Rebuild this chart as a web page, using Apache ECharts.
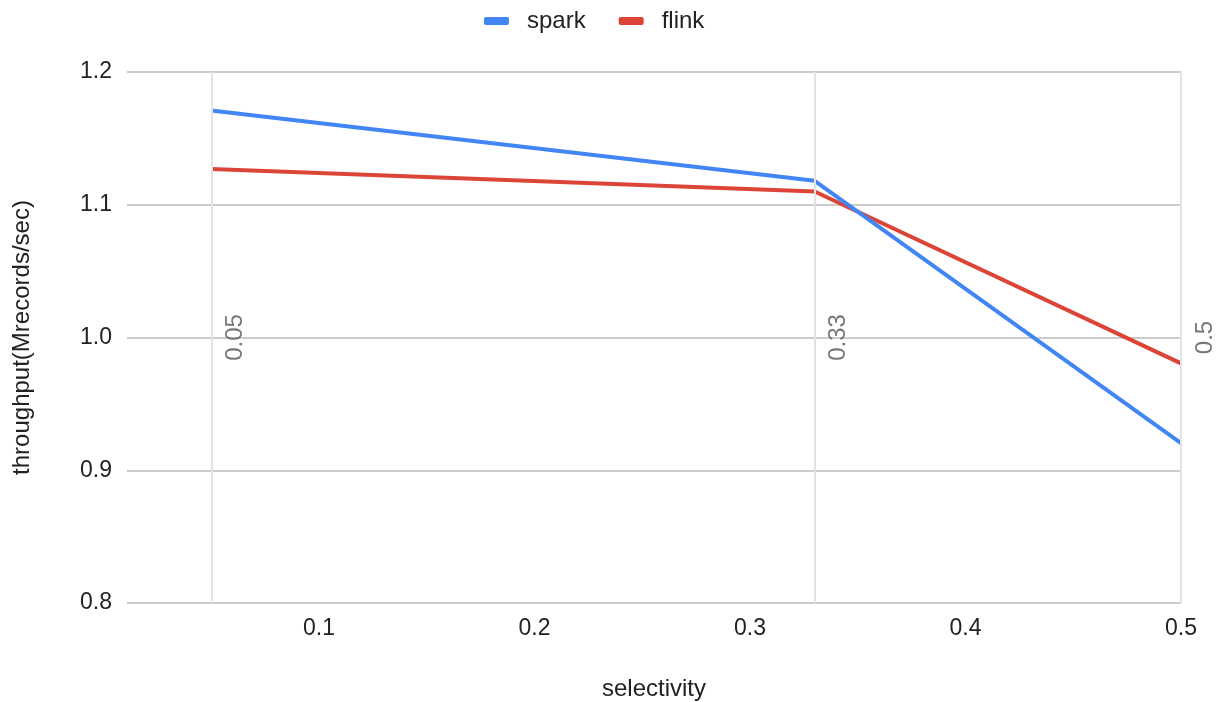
<!DOCTYPE html>
<html>
<head>
<meta charset="utf-8">
<script src="https://cdn.jsdelivr.net/npm/echarts@6/dist/echarts.min.js"></script>
<style>
html,body{margin:0;padding:0;background:#fff;}
#chart{width:1221px;height:702px;}
</style>
</head>
<body>
<div id="chart"></div>
<script>
const selectivity = [0.05, 0.33, 0.5];
const spark = [1.171, 1.118, 0.9205];
const flink = [1.127, 1.110, 0.9805];
const xTicks = [0.1, 0.2, 0.3, 0.4, 0.5];
const seriesNames = ['spark', 'flink'];

const chart = echarts.init(document.getElementById('chart'));
const font = 'Liberation Sans, Arial, sans-serif';
chart.setOption({
  animation: false,
  textStyle: {fontFamily: font},
  legend: {
    data: seriesNames,
    top: 4,
    left: 479,
    itemWidth: 25,
    itemHeight: 8,
    itemGap: 33,
    icon: 'roundRect',
    textStyle: {fontSize: 24, color: '#222', fontFamily: font, padding: [0, 0, 0, 13]}
  },
  grid: {left: 127, right: 40, top: 72, bottom: 99, outerBoundsMode: 'none', containLabel: false},
  xAxis: {
    type: 'value',
    min: 0.0109,
    max: 0.5,
    name: 'selectivity',
    nameLocation: 'middle',
    nameGap: 74,
    nameTextStyle: {fontSize: 24, color: '#222'},
    axisLine: {show: false},
    axisTick: {show: false},
    splitLine: {show: false},
    axisLabel: {
      customValues: xTicks,
      fontSize: 23, color: '#222', margin: 14,
      formatter: v => String(v)
    }
  },
  yAxis: {
    type: 'value',
    min: 0.8, max: 1.2, interval: 0.1,
    name: 'throughput(Mrecords/sec)',
    nameLocation: 'middle',
    nameGap: 93,
    nameTextStyle: {fontSize: 24, color: '#222'},
    axisLine: {show: false},
    axisTick: {show: false},
    splitLine: {lineStyle: {color: '#cccccc', width: 2}},
    axisLabel: {fontSize: 23, color: '#222', margin: 15, formatter: v => v.toFixed(1)}
  },
  series: [
    {
      name: 'domain', type: 'line', data: [], z: 1, silent: true,
      markLine: {
        silent: true, symbol: 'none', animation: false,
        lineStyle: {color: '#e3e3e3', width: 2, type: 'solid'},
        label: {
          show: true, position: 'insideMiddleBottom', formatter: p => String(p.value),
          color: '#777', fontSize: 24, distance: 12
        },
        data: selectivity.map(v => ({xAxis: v}))
      }
    },
    {
      name: 'spark', type: 'line', z: 3,
      data: selectivity.map((x, i) => [x, spark[i]]),
      showSymbol: false, symbol: 'none',
      lineStyle: {color: '#4285F4', width: 4},
      itemStyle: {color: '#4285F4'}
    },
    {
      name: 'flink', type: 'line', z: 2,
      data: selectivity.map((x, i) => [x, flink[i]]),
      showSymbol: false, symbol: 'none',
      lineStyle: {color: '#DB4437', width: 4},
      itemStyle: {color: '#DB4437'}
    }
  ]
});
</script>
</body>
</html>
